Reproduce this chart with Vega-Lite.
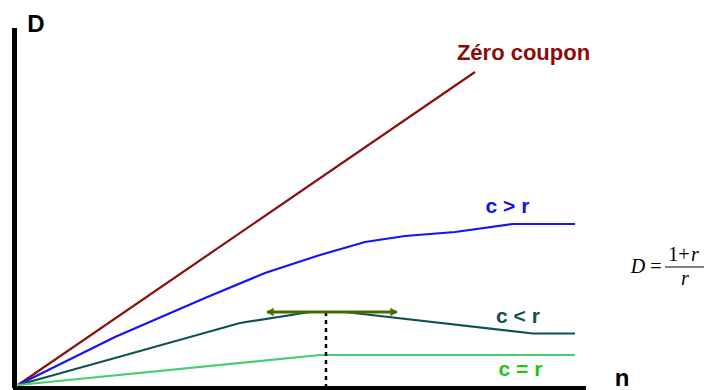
{
  "$schema": "https://vega.github.io/schema/vega-lite/v6.json",
  "width": 706,
  "height": 390,
  "padding": 0,
  "autosize": "none",
  "config": {"view": {"stroke": null}},
  "datasets": {
    "curves": [
      {"series": "Zéro coupon", "n": 0.3, "D": 0.1, "o": 0},
      {"series": "Zéro coupon", "n": 46.0, "D": 31.4, "o": 1},
      {"series": "c > r", "n": 0.3, "D": 0.1, "o": 0},
      {"series": "c > r", "n": 10.0, "D": 4.9, "o": 1},
      {"series": "c > r", "n": 19.0, "D": 8.8, "o": 2},
      {"series": "c > r", "n": 25.0, "D": 11.3, "o": 3},
      {"series": "c > r", "n": 30.5, "D": 13.1, "o": 4},
      {"series": "c > r", "n": 35.0, "D": 14.4, "o": 5},
      {"series": "c > r", "n": 39.0, "D": 15.0, "o": 6},
      {"series": "c > r", "n": 44.0, "D": 15.4, "o": 7},
      {"series": "c > r", "n": 49.8, "D": 16.2, "o": 8},
      {"series": "c > r", "n": 56.0, "D": 16.2, "o": 9},
      {"series": "c < r", "n": 0.3, "D": 0.1, "o": 0},
      {"series": "c < r", "n": 10.0, "D": 2.8, "o": 1},
      {"series": "c < r", "n": 22.5, "D": 6.3, "o": 2},
      {"series": "c < r", "n": 29.5, "D": 7.4, "o": 3},
      {"series": "c < r", "n": 33.0, "D": 7.4, "o": 4},
      {"series": "c < r", "n": 51.8, "D": 5.25, "o": 5},
      {"series": "c < r", "n": 56.0, "D": 5.25, "o": 6},
      {"series": "c = r", "n": 0.3, "D": 0.1, "o": 0},
      {"series": "c = r", "n": 30.5, "D": 3.1, "o": 1},
      {"series": "c = r", "n": 56.0, "D": 3.1, "o": 2}
    ],
    "labels": [
      {"label": "D", "n": 2.1, "D": 35.4},
      {"label": "Zéro coupon", "n": 50.85, "D": 32.6},
      {"label": "c > r", "n": 49.25, "D": 17.3},
      {"label": "c < r", "n": 50.3, "D": 6.3},
      {"label": "c = r", "n": 50.55, "D": 1.0},
      {"label": "n", "n": 60.7, "D": 0.05}
    ],
    "formula": [
      {"part": "D", "n": 62.3, "D": 11.3},
      {"part": "=", "n": 64.1, "D": 11.3},
      {"part": "1+", "n": 66.4, "D": 12.5},
      {"part": "r", "n": 68.0, "D": 12.5},
      {"part": "r", "n": 67.0, "D": 10.1}
    ]
  },
  "layer": [
    {
      "data": {"values": [{"n1": -0.05, "D1": -0.2, "D2": 35.8}]},
      "mark": {"type": "rule", "color": "black", "strokeWidth": 5},
      "encoding": {
        "x": {"field": "n1", "type": "quantitative", "scale": {"domain": [-1.5, 69.1], "nice": false, "zero": false}, "axis": null},
        "y": {"field": "D1", "type": "quantitative", "scale": {"domain": [-0.4, 38.6], "nice": false, "zero": false}, "axis": null},
        "y2": {"field": "D2"}
      }
    },
    {
      "data": {"values": [{"n1": -0.2, "n2": 57.1, "D1": -0.25}]},
      "mark": {"type": "rule", "color": "black", "strokeWidth": 5},
      "encoding": {
        "x": {"field": "n1", "type": "quantitative"},
        "x2": {"field": "n2"},
        "y": {"field": "D1", "type": "quantitative"}
      }
    },
    {
      "data": {"name": "curves"},
      "mark": {"type": "line", "strokeWidth": 2.2},
      "encoding": {
        "x": {"field": "n", "type": "quantitative"},
        "y": {"field": "D", "type": "quantitative"},
        "order": {"field": "o"},
        "color": {"field": "series", "type": "nominal", "legend": null,
          "scale": {"domain": ["Zéro coupon", "c > r", "c < r", "c = r"], "range": ["#8b1010", "#1414f5", "#0f5252", "#45cf6e"]}}
      }
    },
    {
      "data": {"values": [{"n": 31.1, "D1": 7.4, "D2": -0.2}]},
      "mark": {"type": "rule", "color": "black", "strokeWidth": 2.5, "strokeDash": [4, 4]},
      "encoding": {
        "x": {"field": "n", "type": "quantitative"},
        "y": {"field": "D1", "type": "quantitative"},
        "y2": {"field": "D2"}
      }
    },
    {
      "data": {"values": [{"n1": 25.2, "n2": 38.2, "D": 7.4}]},
      "mark": {"type": "rule", "color": "#4a6a00", "strokeWidth": 3},
      "encoding": {
        "x": {"field": "n1", "type": "quantitative"},
        "x2": {"field": "n2"},
        "y": {"field": "D", "type": "quantitative"}
      }
    },
    {
      "data": {"values": [{"n": 25.5, "D": 7.4}]},
      "mark": {"type": "point", "shape": "triangle-left", "filled": true, "color": "#4a6a00", "size": 70, "opacity": 1},
      "encoding": {
        "x": {"field": "n", "type": "quantitative"},
        "y": {"field": "D", "type": "quantitative"}
      }
    },
    {
      "data": {"values": [{"n": 37.9, "D": 7.4}]},
      "mark": {"type": "point", "shape": "triangle-right", "filled": true, "color": "#4a6a00", "size": 70, "opacity": 1},
      "encoding": {
        "x": {"field": "n", "type": "quantitative"},
        "y": {"field": "D", "type": "quantitative"}
      }
    },
    {
      "data": {"name": "labels"},
      "transform": [{"filter": "datum.label == 'D' || datum.label == 'n'"}],
      "mark": {"type": "text", "font": "Liberation Sans", "fontWeight": "bold", "fontSize": 24, "align": "center", "baseline": "alphabetic", "color": "black"},
      "encoding": {
        "x": {"field": "n", "type": "quantitative"},
        "y": {"field": "D", "type": "quantitative"},
        "text": {"field": "label"}
      }
    },
    {
      "data": {"name": "labels"},
      "transform": [{"filter": "datum.label == 'Zéro coupon'"}],
      "mark": {"type": "text", "font": "Liberation Sans", "fontWeight": "bold", "fontSize": 22, "align": "center", "baseline": "alphabetic", "color": "#8b0a0a"},
      "encoding": {
        "x": {"field": "n", "type": "quantitative"},
        "y": {"field": "D", "type": "quantitative"},
        "text": {"field": "label"}
      }
    },
    {
      "data": {"name": "labels"},
      "transform": [{"filter": "datum.label == 'c > r' || datum.label == 'c < r' || datum.label == 'c = r'"}],
      "mark": {"type": "text", "font": "Liberation Sans", "fontWeight": "bold", "fontSize": 21, "align": "center", "baseline": "alphabetic"},
      "encoding": {
        "x": {"field": "n", "type": "quantitative"},
        "y": {"field": "D", "type": "quantitative"},
        "text": {"field": "label"},
        "color": {"field": "label", "type": "nominal", "legend": null,
          "scale": {"domain": ["c > r", "c < r", "c = r"], "range": ["#1010f0", "#174f4f", "#22c41a"]}}
      }
    },
    {
      "data": {"name": "formula"},
      "transform": [{"filter": "datum.part == 'D' || datum.part == 'r'"}],
      "mark": {"type": "text", "font": "Liberation Serif", "fontStyle": "italic", "fontSize": 20, "align": "center", "baseline": "alphabetic", "color": "black"},
      "encoding": {
        "x": {"field": "n", "type": "quantitative"},
        "y": {"field": "D", "type": "quantitative"},
        "text": {"field": "part"}
      }
    },
    {
      "data": {"name": "formula"},
      "transform": [{"filter": "datum.part == '=' || datum.part == '1+'"}],
      "mark": {"type": "text", "font": "Liberation Serif", "fontSize": 20, "align": "center", "baseline": "alphabetic", "color": "black"},
      "encoding": {
        "x": {"field": "n", "type": "quantitative"},
        "y": {"field": "D", "type": "quantitative"},
        "text": {"field": "part"}
      }
    },
    {
      "data": {"values": [{"n1": 65.0, "n2": 68.9, "D": 11.9}]},
      "mark": {"type": "rule", "color": "black", "strokeWidth": 1},
      "encoding": {
        "x": {"field": "n1", "type": "quantitative"},
        "x2": {"field": "n2"},
        "y": {"field": "D", "type": "quantitative"}
      }
    }
  ],
  "resolve": {"scale": {"color": "independent"}}
}
